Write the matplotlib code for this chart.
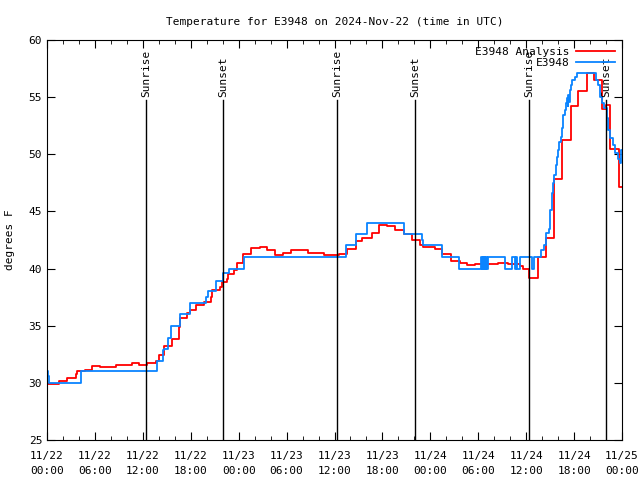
import numpy as np
import pandas as pd
import matplotlib
matplotlib.use('Agg')
import matplotlib.pyplot as plt
import matplotlib.dates as mdates

# hours since 2024-11-22 00:00 UTC
obs_hours = [0.0, 0.13, 0.25, 4.3, 13.8, 14.5, 14.7, 15.2, 15.5, 16.6, 16.65, 17.9, 19.9, 20.1,
             21.1, 22.1, 22.8, 24.7, 37.5, 38.7, 40.1, 44.7, 46.9, 47.1, 49.4, 51.6,
             54.4, 54.45, 54.6, 54.65, 54.8, 54.85, 55.0, 55.05, 55.2, 57.35, 58.2,
             58.6, 58.7, 58.8, 59.2, 60.7, 61.0, 61.9, 62.2, 62.5, 62.8, 63.0, 63.27,
             63.4, 63.5, 63.7, 63.8, 64.0, 64.15, 64.3, 64.45, 64.6, 64.65, 64.8, 64.95,
             65.1, 65.2, 65.3, 65.4, 65.5, 65.6, 65.8, 66.1, 66.4, 68.8, 69.0, 69.2,
             69.3, 69.45, 69.8, 70.1, 70.3, 70.5, 70.9, 71.1, 71.5, 71.75, 71.9, 72.0]
obs_temp = [31.0, 30.6, 30.0, 31.0, 31.9, 32.9, 33.0, 33.9, 35.0, 35.5,
            36.0, 37.0, 37.5, 38.0, 38.9, 39.6, 40.0, 41.0, 42.1, 43.0, 44.0, 43.0, 42.5, 42.1,
            41.0, 40.0, 41.0, 40.0, 41.0, 40.0, 41.0, 40.0, 41.0, 40.0, 41.0, 40.0, 41.0,
            40.0, 41.0, 40.0, 41.0, 40.0, 41.0, 41.6, 42.1, 43.1, 43.5, 45.1, 46.6,
            47.5, 48.2, 49.1, 49.8, 50.4, 51.1, 51.5, 52.3, 52.9, 53.4, 53.9, 54.5,
            54.9, 54.2, 55.2, 54.6, 55.6, 56.1, 56.5, 56.8, 57.1, 56.5, 56.1, 55.5,
            55.0, 54.5, 54.05, 53.15, 52.1, 51.4, 50.8, 50.1, 49.6, 49.2, 50.4, 50.4]

ana_hours = [0.0, 1.55, 2.55, 3.6, 3.7, 4.7, 5.6, 6.6, 8.65, 10.6, 11.55, 12.5, 13.65,
             14.0, 14.7, 15.6, 16.5, 16.65, 17.55, 17.9, 18.65, 19.6, 20.5, 20.65, 21.6,
             21.9, 22.6, 22.7, 23.45, 23.75, 24.6, 25.6, 26.7, 27.5, 28.6, 29.6, 30.6,
             32.7, 34.7, 36.6, 37.6, 38.7, 39.5, 40.65, 41.6, 42.6, 43.6, 44.7, 45.7,
             46.7, 47.1, 48.6, 49.4, 50.6, 51.7, 52.55, 53.6, 56.5, 57.7, 59.2, 59.65,
             60.4, 61.5, 62.5, 63.5, 64.5, 65.6, 66.5, 67.6, 68.5, 69.45, 70.0, 70.5,
             71.6, 72.0]
ana_temp = [29.9, 30.2, 30.4, 30.75, 31.0, 31.1, 31.5, 31.35, 31.6, 31.7, 31.6, 31.7, 31.9,
            32.4, 33.2, 33.8, 34.9, 35.7, 36.1, 36.4, 36.8, 37.1, 37.5, 38.1, 38.4,
            38.8, 39.1, 39.5, 39.9, 40.5, 41.3, 41.8, 41.9, 41.6, 41.2, 41.4, 41.6,
            41.4, 41.2, 41.3, 41.7, 42.4, 42.7, 43.1, 43.8, 43.7, 43.4, 43.0, 42.5,
            42.1, 41.9, 41.7, 41.25, 40.7, 40.5, 40.3, 40.4, 40.5, 40.4, 40.2, 40.0,
            39.15, 41.0, 42.65, 47.8, 51.25, 54.2, 55.5, 57.1, 56.5, 54.0, 54.3, 50.5,
            47.1, 47.1]

sun_hours = [12.4, 22.05, 36.3, 46.1, 60.35, 70.0]
sun_labels = ['Sunrise', 'Sunset', 'Sunrise', 'Sunset', 'Sunrise', 'Sunset']

start = pd.Timestamp('2024-11-22 00:00')
def to_time(h):
    return start + pd.to_timedelta(np.array(h), unit='h')

plt.rcParams['font.family'] = 'DejaVu Sans Mono'
plt.rcParams['font.size'] = 8

fig = plt.figure(figsize=(6.4, 4.8), dpi=100)
ax = fig.add_axes([47/640, 40/480, 575/640, 400/480])

ax.plot(to_time(ana_hours), ana_temp, drawstyle='steps-post', color='#ff0000', lw=1.3, label='E3948 Analysis')
ax.plot(to_time(obs_hours), obs_temp, drawstyle='steps-post', color='#0a84ff', lw=1.3, label='E3948')

for h, lab in zip(sun_hours, sun_labels):
    t = to_time([h])[0]
    ax.plot([t, t], [25, 54.75], color='black', lw=1)
    ax.text(t, 55.0, lab, rotation=90, ha='center', va='bottom', fontsize=8)

ax.set_xlim(start, start + pd.Timedelta(hours=72))
ax.set_ylim(25, 60)
ax.set_yticks(range(25, 61, 5))
ax.xaxis.set_major_locator(mdates.HourLocator(byhour=range(0, 24, 6)))
ax.xaxis.set_minor_locator(mdates.HourLocator(byhour=range(0, 24, 2)))
ax.xaxis.set_major_formatter(mdates.DateFormatter('%m/%d\n%H:%M'))
ax.tick_params(which='both', direction='in', top=True, right=True, labelsize=8)
ax.tick_params(which='major', length=6)
ax.tick_params(which='minor', length=3)
ax.tick_params(axis='x', which='major', pad=8)
for lbl in ax.get_xticklabels():
    lbl.set_linespacing(1.6)

ax.set_ylabel('degrees F', fontsize=8)
ax.yaxis.set_label_coords(-0.055, 0.5)
ax.set_title('Temperature for E3948 on 2024-Nov-22 (time in UTC)', fontsize=8, pad=11)

ax.legend(loc='upper right', frameon=False, markerfirst=False, handlelength=3.5,
          borderaxespad=0.2, labelspacing=0.1, handletextpad=0.6, fontsize=8)

fig.savefig('out.png', dpi=100)
